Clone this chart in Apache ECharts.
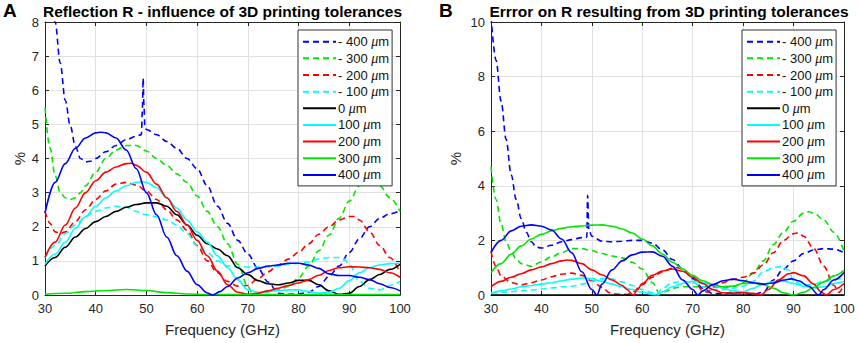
<!DOCTYPE html>
<html><head><meta charset="utf-8">
<script src="https://cdn.jsdelivr.net/npm/echarts@6/dist/echarts.min.js"></script>
<style>html,body{margin:0;padding:0;background:#fff}#c{width:858px;height:343px}</style>
</head><body><div id="c"></div>
<script>
// ---------- shared ----------
const seriesNames = ['- 400 μm','- 300 μm','- 200 μm','- 100 μm','0 μm','100 μm','200 μm','300 μm','400 μm'];
const seriesColors = ['#0000ff','#00e600','#ff0000','#00ffff','#000000','#00ffff','#ff0000','#00e600','#0000ff'];
const seriesDashed = [true,true,true,true,false,false,false,false,false];
const freqTicks = [30,40,50,60,70,80,90,100];
const titleA = 'Reflection R - influence of 3D printing tolerances';
const titleB = 'Errror on R resulting from 3D printing tolerances';
const xName = 'Frequency (GHz)';
const yName = '%';

// ---------- Panel A : reflection R (%) ----------
const reflM400 = [[30,11],[31,9.5],[32,8.0],[33,6.8],[34,5.7],[35,4.95],[36,4.35],[37,4.0],[38,3.9],[39,3.92],[40,4.0],[42,4.2],[44,4.38],[46,4.55],[48,4.65],[49,4.7],[49.2,5.4],[49.35,6.35],[49.5,5.6],[49.7,4.9],[50,4.85],[52,4.7],[54,4.5],[56,4.3],[58,4.0],[60,3.7],[62,3.2],[64,2.6],[66,2.1],[68,1.6],[70,1.2],[72,0.78],[74,0.38],[76,0.05],[78,0.02],[80,0.03],[82,0.08],[84,0.25],[86,0.55],[88,0.85],[90,1.25],[92,1.65],[94,2.0],[96,2.25],[98,2.38],[100,2.47]];
const reflM300 = [[30,5.5],[31,4.3],[32,3.5],[33,3.0],[34,2.85],[35,2.8],[36,2.85],[37,3.0],[38,3.2],[40,3.6],[42,4.0],[44,4.25],[46,4.38],[48,4.38],[50,4.22],[52,4.0],[54,3.8],[56,3.55],[58,3.3],[60,2.9],[62,2.45],[64,2.0],[66,1.5],[68,0.9],[70,0.25],[71,0.02],[72,0.05],[74,0.1],[76,0.15],[78,0.25],[80,0.5],[82,0.85],[84,1.3],[86,1.75],[88,2.25],[90,2.75],[92,3.2],[93.5,3.45],[95,3.35],[96,3.2],[98,2.85],[100,2.45]];
const reflM200 = [[30,2.45],[31,2.1],[32,1.85],[33,1.8],[34,1.85],[36,2.15],[38,2.5],[40,2.8],[42,3.05],[44,3.25],[46,3.3],[48,3.22],[50,3.05],[52,2.8],[54,2.5],[56,2.2],[58,1.9],[60,1.45],[62,1.0],[64,0.65],[66,0.4],[68,0.26],[70,0.28],[72,0.48],[74,0.68],[76,0.88],[78,1.05],[80,1.25],[82,1.5],[84,1.78],[86,2.0],[88,2.2],[90,2.3],[91,2.3],[92,2.2],[94,1.85],[96,1.45],[98,1.1],[100,0.65]];
const reflM100 = [[30,1.1],[32,1.45],[34,1.8],[36,2.05],[38,2.3],[40,2.45],[42,2.55],[44,2.6],[46,2.57],[48,2.45],[50,2.35],[52,2.3],[54,2.2],[56,2.05],[58,1.8],[60,1.45],[62,1.25],[64,1.0],[66,0.85],[68,0.82],[70,0.82],[72,0.82],[74,0.82],[76,0.85],[78,0.9],[80,0.93],[82,0.97],[84,1.05],[86,1.1],[88,1.1],[89,1.05],[90,0.9],[92,0.4],[94,0.2],[96,0.15],[98,0.28],[100,0.4]];
const reflP0 = [[30,0.85],[32,1.1],[34,1.4],[36,1.7],[38,1.95],[40,2.15],[42,2.3],[44,2.45],[46,2.57],[48,2.65],[50,2.7],[52,2.7],[54,2.6],[56,2.35],[58,2.05],[60,1.75],[62,1.5],[64,1.35],[66,1.15],[68,0.8],[70,0.6],[72,0.42],[74,0.33],[76,0.3],[78,0.35],[80,0.43],[82,0.43],[84,0.3],[86,0.12],[88,0.02],[90,0.05],[92,0.25],[94,0.45],[96,0.6],[98,0.75],[100,0.9]];
const reflP100 = [[30,0.9],[32,1.2],[34,1.55],[36,1.95],[38,2.3],[40,2.6],[42,2.85],[44,3.05],[46,3.2],[48,3.3],[49,3.32],[50,3.3],[52,3.15],[54,2.85],[56,2.55],[58,2.2],[60,1.85],[62,1.55],[64,1.15],[66,0.8],[68,0.45],[70,0.15],[72,0.08],[74,0.1],[76,0.13],[78,0.15],[80,0.15],[82,0.1],[84,0.06],[86,0.08],[88,0.2],[90,0.42],[92,0.65],[94,0.8],[96,0.88],[98,0.92],[100,0.93]];
const reflP200 = [[30,1.1],[32,1.55],[34,2.05],[36,2.55],[38,3.0],[40,3.35],[42,3.6],[44,3.75],[46,3.85],[47,3.86],[48,3.8],[50,3.6],[52,3.25],[54,2.85],[56,2.45],[58,2.05],[60,1.6],[62,1.15],[64,0.7],[66,0.3],[68,0.08],[70,0.02],[72,0.05],[74,0.12],[76,0.2],[78,0.28],[80,0.35],[82,0.45],[84,0.58],[86,0.72],[88,0.8],[90,0.83],[92,0.82],[94,0.8],[96,0.75],[98,0.65],[100,0.52]];
const reflP300 = [[30,0.02],[34,0.05],[38,0.1],[42,0.13],[46,0.16],[50,0.13],[54,0.07],[58,0.03],[62,0.01],[70,0.01],[80,0.01],[90,0.01],[100,0.01]];
const reflP400 = [[30,2.4],[32,3.3],[34,3.85],[36,4.3],[38,4.6],[40,4.75],[41,4.77],[42,4.75],[44,4.6],[46,4.25],[48,3.7],[50,3.0],[52,2.35],[54,1.7],[56,1.15],[58,0.7],[60,0.3],[62,0.06],[63,0.0],[64.5,0.1],[66,0.25],[68,0.5],[70,0.65],[72,0.78],[74,0.85],[76,0.88],[78,0.93],[80,0.93],[82,0.88],[84,0.78],[86,0.62],[88,0.57],[90,0.57],[92,0.52],[94,0.45],[96,0.33],[98,0.22],[100,0.12]];

// ---------- Panel B : error on R (%) ----------
const errM400 = [[30,10.2],[31,8.6],[32,7.1],[33,5.7],[34,4.4],[35,3.5],[36,2.8],[37,2.3],[38,1.95],[39,1.75],[40,1.72],[42,1.82],[44,1.95],[46,2.03],[48,2.1],[49,2.12],[49.15,3.65],[49.4,2.4],[50,2.15],[52,1.97],[54,1.95],[56,1.97],[58,2.0],[60,2.0],[62,1.9],[64,1.65],[66,1.3],[68,0.95],[70,0.6],[72,0.25],[74,0.05],[76,0.05],[78,0.1],[80,0.08],[82,0.02],[84,0.1],[86,0.55],[88,0.95],[90,1.25],[92,1.52],[94,1.65],[96,1.7],[98,1.68],[100,1.55]];
const errM300 = [[30,4.7],[31,3.5],[32,2.6],[33,1.95],[34,1.6],[35,1.3],[36,1.15],[38,1.05],[40,1.22],[42,1.4],[44,1.55],[46,1.7],[48,1.7],[50,1.62],[52,1.52],[54,1.43],[56,1.36],[58,1.2],[60,0.95],[62,0.45],[63.5,0.05],[65,0.15],[66,0.25],[68,0.3],[70,0.3],[72,0.3],[74,0.3],[76,0.28],[78,0.3],[80,0.45],[82,0.8],[84,1.25],[86,1.85],[88,2.3],[90,2.7],[92,3.0],[93,3.05],[94,3.0],[96,2.75],[98,2.3],[100,1.6]];
const errM200 = [[30,1.6],[31,1.05],[32,0.7],[34,0.45],[36,0.37],[38,0.45],[40,0.55],[42,0.67],[44,0.76],[46,0.8],[48,0.72],[50,0.52],[52,0.28],[53.5,0.08],[55,0.03],[57,0.02],[58,0.1],[60,0.38],[62,0.65],[64,0.85],[66,0.98],[67,1.0],[68,0.95],[70,0.65],[72,0.15],[73,0.1],[74,0.3],[76,0.45],[78,0.57],[80,0.65],[82,0.8],[84,1.1],[86,1.55],[88,2.0],[90,2.25],[91,2.28],[92,2.15],[94,1.7],[96,1.05],[98,0.35],[99,0.1],[100,0.4]];
const errM100 = [[30,0.08],[32,0.1],[34,0.12],[36,0.15],[38,0.18],[40,0.22],[42,0.26],[44,0.3],[46,0.32],[48,0.4],[50,0.5],[52,0.6],[54,0.58],[56,0.48],[58,0.35],[60,0.2],[62,0.08],[63,0.05],[64,0.25],[66,0.45],[68,0.5],[70,0.45],[72,0.3],[74,0.2],[76,0.2],[78,0.25],[80,0.32],[82,0.5],[84,0.85],[86,1.0],[87.5,1.05],[89,0.92],[90,0.5],[92,0.35],[94,0.4],[96,0.5],[98,0.58],[100,0.62]];
const errP0 = [[30,0],[40,0],[50,0],[60,0],[70,0],[80,0],[90,0],[100,0]];
const errP100 = [[30,0.05],[32,0.15],[34,0.22],[36,0.3],[38,0.35],[40,0.4],[42,0.45],[44,0.52],[46,0.58],[48,0.62],[50,0.6],[52,0.5],[54,0.4],[56,0.3],[58,0.2],[60,0.1],[62,0.02],[63,0.0],[64,0.12],[66,0.3],[68,0.42],[70,0.5],[72,0.46],[74,0.35],[76,0.25],[78,0.15],[80,0.12],[82,0.25],[84,0.4],[86,0.48],[88,0.51],[90,0.42],[92,0.32],[94,0.26],[96,0.3],[98,0.42],[100,0.5]];
const errP200 = [[30,0.3],[32,0.5],[34,0.65],[36,0.78],[38,0.92],[40,1.03],[42,1.15],[44,1.25],[45,1.28],[46,1.27],[48,1.15],[50,0.92],[52,0.74],[54,0.55],[56,0.35],[57,0.2],[58,0.03],[58.3,0.0],[59,0.2],[60,0.42],[62,0.72],[64,0.88],[66,0.95],[68,0.87],[70,0.65],[72,0.42],[74,0.2],[76,0.08],[78,0.07],[80,0.08],[82,0.06],[83.5,0.0],[85,0.2],[87,0.55],[89,0.78],[90,0.82],[92,0.7],[94,0.4],[95.5,0.1],[96.5,0.0],[98,0.2],[100,0.42]];
const errP300 = [[30,0.82],[32,1.15],[34,1.5],[36,1.8],[38,2.05],[40,2.22],[42,2.35],[44,2.44],[46,2.5],[48,2.53],[50,2.56],[52,2.57],[54,2.52],[56,2.42],[58,2.27],[60,2.05],[62,1.8],[64,1.5],[66,1.2],[68,0.95],[70,0.72],[72,0.52],[74,0.38],[76,0.3],[78,0.33],[80,0.42],[82,0.43],[84,0.38],[86,0.25],[88,0.08],[90,0.0],[92,0.1],[94,0.28],[96,0.48],[98,0.7],[100,0.9]];
const errP400 = [[30,1.55],[32,2.0],[34,2.35],[36,2.52],[38,2.57],[40,2.52],[42,2.38],[44,2.05],[46,1.55],[48,0.85],[50,0.2],[51,0.0],[52,0.4],[54,0.92],[56,1.25],[58,1.47],[60,1.57],[62,1.58],[64,1.42],[66,1.05],[68,0.55],[70,0.2],[71,0.0],[72,0.15],[74,0.38],[76,0.52],[78,0.58],[80,0.52],[82,0.45],[84,0.4],[86,0.44],[88,0.55],[89.5,0.59],[91,0.52],[93,0.32],[95,0.0],[96,0.2],[98,0.55],[100,0.82]];

const panelA = [reflM400,reflM300,reflM200,reflM100,reflP0,reflP100,reflP200,reflP300,reflP400];
const panelB = [errM400,errM300,errM200,errM100,errP0,errP100,errP200,errP300,errP400];

// ---------- layout ----------
const FONT = 'Liberation Sans, Arial, Helvetica, sans-serif';
const AX = '#262626';
const gridA = {left:45, right:458, top:22, bottom:48};
const gridB = {left:491, right:14, top:22, bottom:48};

function xAxes(gi, isMain) {
  return {
    type:'value', gridIndex:gi, min:30, max:100, interval:10,
    position: isMain ? 'bottom' : 'top',
    name: isMain ? xName : '', nameLocation:'middle', nameGap:27,
    nameTextStyle:{fontFamily:FONT, fontSize:15, color:AX},
    axisLine:{show:true, onZero:false, lineStyle:{color:AX, width:1}},
    axisTick:{show:true, inside:true, length:4, lineStyle:{color:AX}},
    axisLabel:{show:isMain, fontFamily:FONT, fontSize:13, color:AX, margin:7,
      formatter: v => freqTicks.includes(v) ? String(v) : ''},
    splitLine:{show:isMain, lineStyle:{color:'#e1e1e1', width:1}}
  };
}
function yAxes(gi, isMain, max, interval, gap) {
  return {
    type:'value', gridIndex:gi, min:0, max:max, interval:interval,
    position: isMain ? 'left' : 'right',
    name: isMain ? yName : '', nameLocation:'middle', nameGap:gap, nameRotate:90,
    nameTextStyle:{fontFamily:FONT, fontSize:15, color:AX},
    axisLine:{show:true, onZero:false, lineStyle:{color:AX, width:1}},
    axisTick:{show:true, inside:true, length:4, lineStyle:{color:AX}},
    axisLabel:{show:isMain, fontFamily:FONT, fontSize:13, color:AX, margin:6},
    splitLine:{show:isMain, lineStyle:{color:'#e1e1e1', width:1}}
  };
}

const series = [];
function addPanel(data, xi, yi) {
  data.forEach((d, i) => {
    series.push({
      name: seriesNames[i], type:'line', xAxisIndex:xi, yAxisIndex:yi,
      data: d, symbol:'none', smooth:0.35, smoothMonotone:'x', clip:true,
      lineStyle:{color:seriesColors[i], width:1.6, type: seriesDashed[i] ? [6,4] : 'solid'},
      itemStyle:{color:seriesColors[i]},
      emphasis:{disabled:true}, silent:true, animation:false
    });
  });
}
addPanel(panelA, 0, 0);
addPanel(panelB, 2, 2);

function legendAt(left) {
  return {
    orient:'vertical', left:left, top:30,
    padding:[4.7,3,4,4], itemGap:2.65, itemWidth:33, itemHeight:14,
    backgroundColor:'#ffffff', borderColor:'#333333', borderWidth:1, borderRadius:0,
    data: seriesNames, selectedMode:false,
    formatter: n => { const k = n.indexOf('μ'); return '{t|' + n.slice(0,k) + '}{i|μ}{t|' + n.slice(k+1) + '}'; },
    textStyle:{fontFamily:FONT, fontSize:13, color:'#111', padding:[0,0,0,-3],
      rich:{t:{fontFamily:FONT, fontSize:13, color:'#111'}, i:{fontFamily:'Liberation Serif, serif', fontStyle:'italic', fontSize:14, color:'#111'}}},
    itemStyle:{opacity:0, borderWidth:0},
    lineStyle:{width:2, opacity:1}
  };
}

const chart = echarts.init(document.getElementById('c'), null, {renderer:'svg'});
chart.setOption({
  animation:false,
  backgroundColor:'#ffffff',
  grid:[Object.assign({containLabel:false}, gridA), Object.assign({containLabel:false}, gridB)],
  xAxis:[xAxes(0,true), xAxes(0,false), xAxes(1,true), xAxes(1,false)],
  yAxis:[yAxes(0,true,8,1,18), yAxes(0,false,8,1,0), yAxes(1,true,10,2,28), yAxes(1,false,10,2,0)],
  legend:[legendAt(298), legendAt(742)],
  series: series,
  graphic:[
    {type:'text', x:3, y:1, style:{text:'A', font:'bold 19px ' + FONT, fill:'#000', textAlign:'left', textVerticalAlign:'top'}},
    {type:'text', x:222.5, y:3, style:{text:titleA, font:'bold 15.5px ' + FONT, fill:'#000', textAlign:'center', textVerticalAlign:'top'}},
    {type:'text', x:439, y:1, style:{text:'B', font:'bold 19px ' + FONT, fill:'#000', textAlign:'left', textVerticalAlign:'top'}},
    {type:'text', x:669, y:3, style:{text:titleB, font:'bold 15.5px ' + FONT, fill:'#000', textAlign:'center', textVerticalAlign:'top'}}
  ]
});
</script></body></html>
